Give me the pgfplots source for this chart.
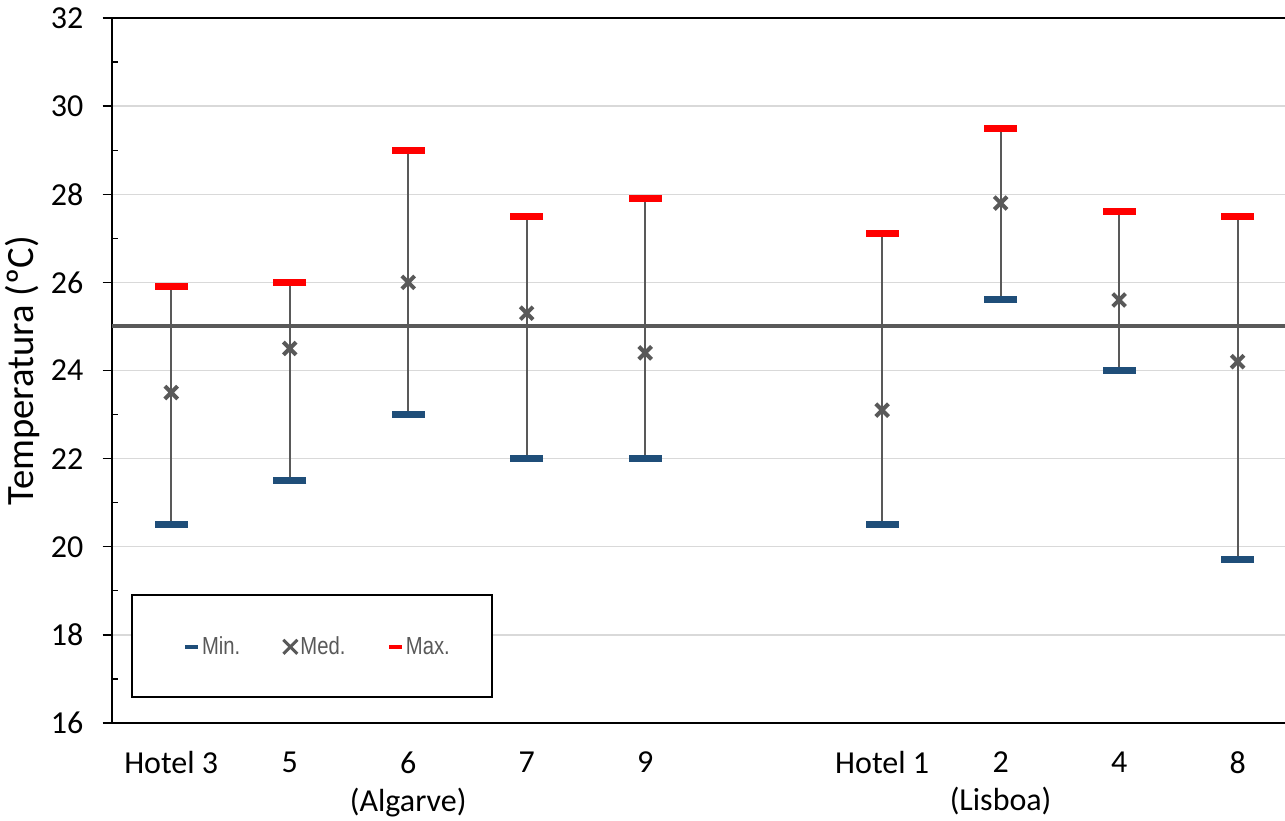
\documentclass[border=0pt]{standalone}
\usepackage{fontspec}
\setmainfont{Carlito}
\newfontfamily\narrowfont[FakeStretch=0.82]{Liberation Sans}
\usepackage{pgfplots}
\pgfplotsset{compat=1.18}
\usepackage{pgfplotstable}

\definecolor{minblue}{HTML}{1F4E79}
\definecolor{maxred}{HTML}{FF0000}
\definecolor{markgray}{HTML}{595959}
\definecolor{gridgray}{HTML}{D9D9D9}

% minimum, median and maximum temperature per hotel
\pgfplotstableread{
x lo med hi
0 20.5 23.5 25.9
1 21.5 24.5 26.0
2 23.0 26.0 29.0
3 22.0 25.3 27.5
4 22.0 24.4 27.9
6 20.5 23.1 27.1
7 25.6 27.8 29.5
8 24.0 25.6 27.6
9 19.7 24.2 27.5
}\hoteltemps

\begin{document}
\begin{tikzpicture}
\begin{axis}[
  name=ax,
  scale only axis,
  width=879.75pt, height=528.75pt,
  xmin=-0.5, xmax=9.4, ymin=16, ymax=32,
  axis x line*=bottom, axis y line*=left,
  axis line style={black, line width=1pt},
  xtick={0,1,2,3,4,6,7,8,9},
  xticklabels={Hotel 3, 5, {6\\(Algarve)}, 7, 9, Hotel 1, {2\\(Lisboa)}, 4, 8},
  x tick label style={align=center, anchor=north, yshift=-11pt,
    font=\fontsize{24}{28.5}\selectfont},
  major x tick style={draw=none},
  ytick={16,18,...,32},
  minor y tick num=1,
  tick align=outside,
  major tick length=7pt, minor tick length=4.5pt,
  y tick style={black, line width=1pt},
  minor y tick style={xshift=4.5pt},
  ymajorgrids,
  major grid style={gridgray, line width=1.1pt},
  y tick label style={font=\fontsize{24}{28}\selectfont, xshift=-11pt},
  /pgf/number format/assume math mode=true,
  ylabel={Temperatura (ºC)},
  ylabel style={at={(axis description cs:-0.0767,0.5)}, anchor=center,
    font=\fontsize{29}{34}\selectfont},
  legend style={at={(axis description cs:0.175,0.108)}, anchor=center,
    draw=none, fill=none, legend columns=3,
    font=\narrowfont\fontsize{18.5}{22}\selectfont, text=markgray,
    nodes={inner sep=1.2pt},
    /tikz/every even column/.append style={column sep=30pt}},
]
% vertical range from minimum to maximum
\addplot[draw=none, forget plot,
  error bars/.cd, y dir=plus, y explicit,
  error bar style={draw=markgray, line width=1.5pt}, error mark=none]
  table[x=x, y=lo, y error expr=\thisrow{hi}-\thisrow{lo}] {\hoteltemps};

% 25 degC reference line
\addplot[forget plot, markgray, line width=3pt] coordinates {(-0.5,25) (9.4,25)};

\addplot[only marks, mark=-, mark size=12.4pt,
  mark options={minblue, line width=5.25pt},
  legend image code/.code={\draw[minblue, line width=3pt] (0pt,0pt) -- (10pt,0pt);}]
  table[x=x, y=lo] {\hoteltemps};
\addlegendentry{Min.}

\addplot[only marks, mark=x, mark size=6.75pt,
  mark options={markgray, line width=3pt},
  legend image code/.code={\draw[markgray, line width=2.25pt]
    (0pt,-5.25pt) -- (10.5pt,5.25pt) (0pt,5.25pt) -- (10.5pt,-5.25pt);}]
  table[x=x, y=med] {\hoteltemps};
\addlegendentry{Med.}

\addplot[only marks, mark=-, mark size=12.4pt,
  mark options={maxred, line width=5.25pt},
  legend image code/.code={\draw[maxred, line width=3pt] (0pt,0pt) -- (10pt,0pt);}]
  table[x=x, y=hi] {\hoteltemps};
\addlegendentry{Max.}

% top border and legend frame
\draw[black, line width=1pt] (rel axis cs:0,1) -- (rel axis cs:1,1);
\draw[black, line width=1pt, fill=white]
  (axis description cs:0.01705,0.1816) rectangle (axis description cs:0.324,0.0369);
\end{axis}
\pgfresetboundingbox
\path ([xshift=-84pt,yshift=-72.75pt]ax.south west) rectangle ([yshift=13.5pt]ax.north east);
\end{tikzpicture}
\end{document}
